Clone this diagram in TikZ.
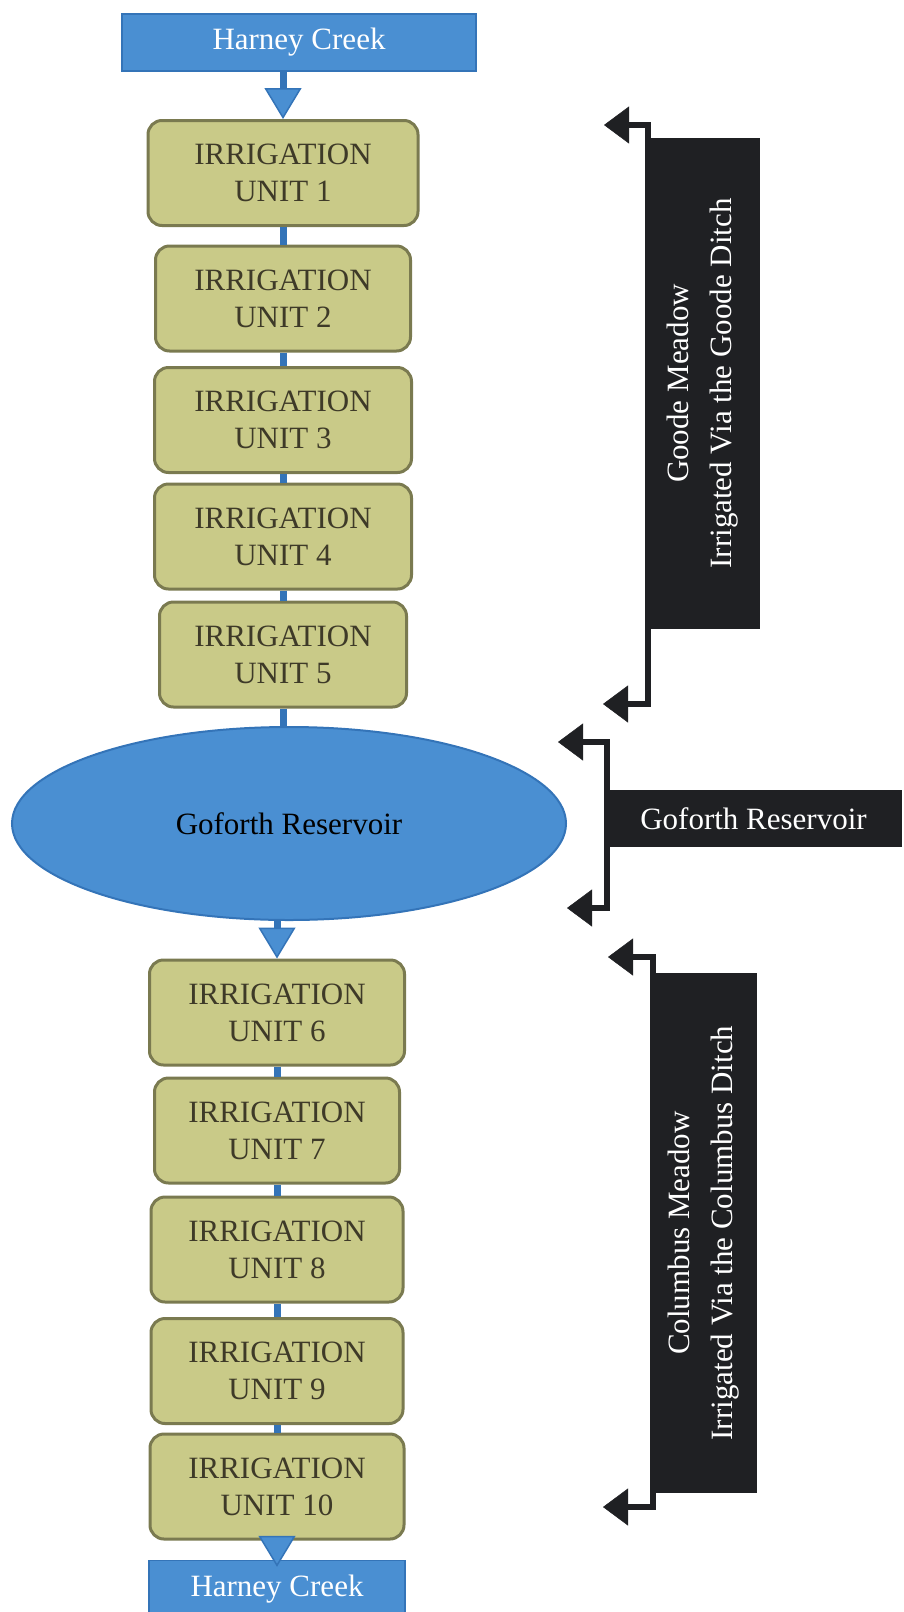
\documentclass[tikz,border=0pt]{standalone}
\usepackage{fontspec}
\setmainfont{Liberation Serif}
\usetikzlibrary{arrows.meta,shapes.geometric}

\definecolor{creekblue}{RGB}{74,143,210}
\definecolor{creekline}{RGB}{52,116,184}
\definecolor{unitfill}{RGB}{201,202,136}
\definecolor{unitline}{RGB}{122,122,80}
\definecolor{unittext}{RGB}{62,58,40}
\definecolor{meadowbox}{RGB}{31,32,35}

\tikzset{
    creek/.style={rectangle, fill=creekblue, draw=creekline, line width=1.5pt, text=white,
        minimum height=57pt, inner sep=0pt},
    unit/.style={rectangle, rounded corners=14pt, fill=unitfill, draw=unitline, line width=3pt,
        text=unittext, minimum height=105pt, inner sep=0pt, align=center},
    reservoir/.style={ellipse, fill=creekblue, draw=creekline, line width=2pt,
        minimum width=554pt, minimum height=193pt, inner sep=0pt},
    darkbox/.style={rectangle, fill=meadowbox, text=white, inner sep=0pt},
    flow/.style={draw=creekline, line width=7pt},
    flowarrow/.style={flow, -{Triangle[length=31pt,width=37pt,line width=1.5pt,fill=creekblue]}},
    bracket/.style={draw=meadowbox, line width=6pt,
        {Triangle[length=25pt,width=37pt,line width=0.5pt]}-{Triangle[length=25pt,width=37pt,line width=0.5pt]}}
}

\begin{document}
\begin{tikzpicture}[x=1pt, y=-1pt, font=\fontsize{31}{37}\selectfont]
    \useasboundingbox (0,0) rectangle (903,1612);

    % creek in and out
    \node[creek, minimum width=354pt] (creektop) at (299,42.5) {Harney Creek};
    \node[creek, minimum width=256pt] (creekbot) at (277,1589) {Harney Creek};

    % the ten units, the upper five above the reservoir
    \foreach \i / \x / \y / \w in {1/283/173/270, 2/283/298.5/255, 3/283/420/257, 4/283/536.5/257,
        5/283/654.5/247, 6/277/1012.5/255, 7/277/1130.5/245, 8/277/1249.5/252, 9/277/1371/252,
        10/277/1486.5/254}
    {
        \node[unit, minimum width=\w pt] (u\i) at (\x,\y) {IRRIGATION\\UNIT \i};
    }

    \node[reservoir] (res) at (289,823.5) {Goforth Reservoir};

    \draw[flowarrow] (creektop.south -| u1.north) -- (u1.north);
    \foreach \a / \b in {1/2, 2/3, 3/4, 4/5, 6/7, 7/8, 8/9, 9/10}
    {
        \draw[flow] (u\a.south) -- (u\b.north);
    }
    \draw[flow] (u5.south) -- (u5.south |- res.north);
    \draw[flowarrow] (res.south -| u6.north) -- (u6.north);
    \draw[flowarrow, shorten >=-7pt] (u10.south) -- (u10.south |- creekbot.north);

    % meadows and reservoir on the right
    \node[darkbox, minimum width=115pt, minimum height=491pt] (goode) at (702.5,383.5) {};
    \node[rotate=90, text=white, align=center] (goodetext) at (goode)
        {Goode Meadow\\[6pt]Irrigated Via the Goode Ditch};
    \node[darkbox, minimum width=297pt, minimum height=57pt] (resbox) at (753.5,818.5) {Goforth Reservoir};
    \node[darkbox, minimum width=107pt, minimum height=520pt] (columbus) at (703.5,1233) {};
    \node[rotate=90, text=white, align=center] (columbustext) at (columbus)
        {Columbus Meadow\\[6pt]Irrigated Via the Columbus Ditch};

    \coordinate (g1) at (604,125);
    \coordinate (g2) at (603,704);
    \coordinate (r1) at (558,742);
    \coordinate (r2) at (567,908);
    \coordinate (c1) at (608,957);
    \coordinate (c2) at (603,1507);

    \draw[bracket] (g1) -| ([xshift=3pt]goode.north west) -- ([xshift=3pt]goode.south west) |- (g2);
    \draw[bracket] (r1) -| ([xshift=2pt]resbox.west) |- (r2);
    \draw[bracket] (c1) -| ([xshift=3pt]columbus.north west) -- ([xshift=3pt]columbus.south west) |- (c2);

\end{tikzpicture}
\end{document}
